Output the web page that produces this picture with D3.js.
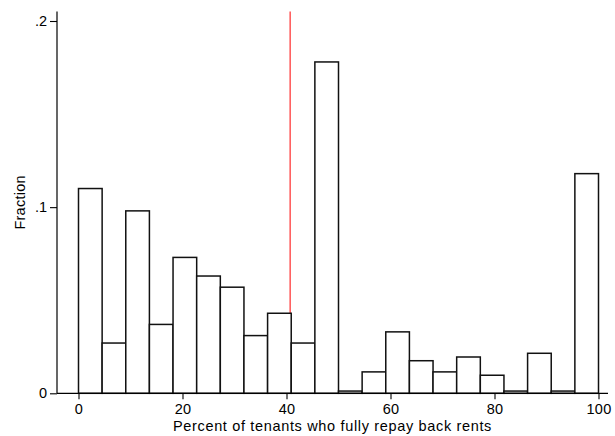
<!DOCTYPE html>
<html>
<head>
<meta charset="utf-8">
<script src="https://cdn.jsdelivr.net/npm/d3@7"></script>
<style>
  html, body { margin: 0; padding: 0; background: #fff; }
  svg { display: block; }
  text { font-family: "Liberation Sans", Arial, Helvetica, sans-serif; fill: #000; }
</style>
</head>
<body>
<svg id="chart" width="615" height="436"></svg>
<script>
// Histogram of repayment shares: 22 equal-width bins spanning 0–100
const binCount = 22;
const binMin = 0;
const binMax = 100;
const fractions = [0.110, 0.027, 0.098, 0.037, 0.073, 0.063, 0.057, 0.031, 0.043, 0.027,
                   0.178, 0.0012, 0.0115, 0.033, 0.0175, 0.0115, 0.0195, 0.0097, 0.0012,
                   0.0215, 0.0012, 0.118];
const xTicks = [0, 20, 40, 60, 80, 100];
const yTicks = [0, 0.1, 0.2];
const yTickLabels = ["0", ".1", ".2"];
const markerValue = 40.7;   // vertical reference line
const xTitle = "Percent of tenants who fully repay back rents";
const yTitle = "Fraction";

const svg = d3.select("#chart");

const x = d3.scaleLinear().domain([binMin, binMax]).range([78.5, 598.5]);
const y = d3.scaleLinear().domain([0, 0.2]).range([393.3, 21]);

const axisLeftX = 57, axisRightX = 608;
const yTop = y.invert(11.5);
const binW = (binMax - binMin) / binCount;
const bins = fractions.map((v, i) => ({ x0: binMin + i * binW, x1: binMin + (i + 1) * binW, v }));

// reference line (drawn beneath the bars)
svg.append("line")
  .attr("x1", x(markerValue)).attr("x2", x(markerValue))
  .attr("y1", y(0)).attr("y2", y(yTop))
  .attr("stroke", "#ff2a2a").attr("stroke-width", 1.2);

// bars
svg.append("g").selectAll("rect").data(bins).join("rect")
  .attr("x", d => x(d.x0))
  .attr("width", d => x(d.x1) - x(d.x0))
  .attr("y", d => y(d.v))
  .attr("height", d => y(0) - y(d.v))
  .attr("fill", "#fff")
  .attr("stroke", "#111")
  .attr("stroke-width", 1.5);

// x axis
const xAxis = svg.append("g")
  .attr("transform", `translate(0,${y(0)})`)
  .call(d3.axisBottom(x).tickValues(xTicks).tickFormat(d3.format("d")).tickSize(6).tickPadding(4).tickSizeOuter(0));
xAxis.select(".domain").remove();
xAxis.append("line")
  .attr("x1", axisLeftX).attr("x2", axisRightX).attr("y1", 0).attr("y2", 0)
  .attr("stroke", "#000").attr("stroke-width", 1.2);
xAxis.selectAll(".tick line").attr("stroke", "#000").attr("stroke-width", 1.1);
xAxis.selectAll(".tick text").attr("font-size", 14.5).attr("font-family", "Liberation Sans, Arial, sans-serif")
  .attr("letter-spacing", 0.3);

// y axis
const yAxis = svg.append("g")
  .attr("transform", `translate(${axisLeftX},0)`)
  .call(d3.axisLeft(y).tickValues(yTicks).tickFormat((d, i) => yTickLabels[i]).tickSize(7).tickPadding(3).tickSizeOuter(0));
yAxis.select(".domain").remove();
yAxis.append("line")
  .attr("x1", 0).attr("x2", 0).attr("y1", y(0)).attr("y2", y(yTop))
  .attr("stroke", "#000").attr("stroke-width", 1.2);
yAxis.selectAll(".tick line").attr("stroke", "#000").attr("stroke-width", 1.1);
yAxis.selectAll(".tick text").attr("font-size", 14.5).attr("font-family", "Liberation Sans, Arial, sans-serif");

// titles
svg.append("text")
  .attr("x", 332.5).attr("y", 431)
  .attr("text-anchor", "middle").attr("font-size", 14.5)
  .attr("letter-spacing", 0.66)
  .text(xTitle);

svg.append("text")
  .attr("transform", `translate(24.5,${(y(0) + y(yTop)) / 2}) rotate(-90)`)
  .attr("text-anchor", "middle").attr("font-size", 14.5)
  .attr("letter-spacing", 0.25)
  .text(yTitle);
</script>
</body>
</html>
